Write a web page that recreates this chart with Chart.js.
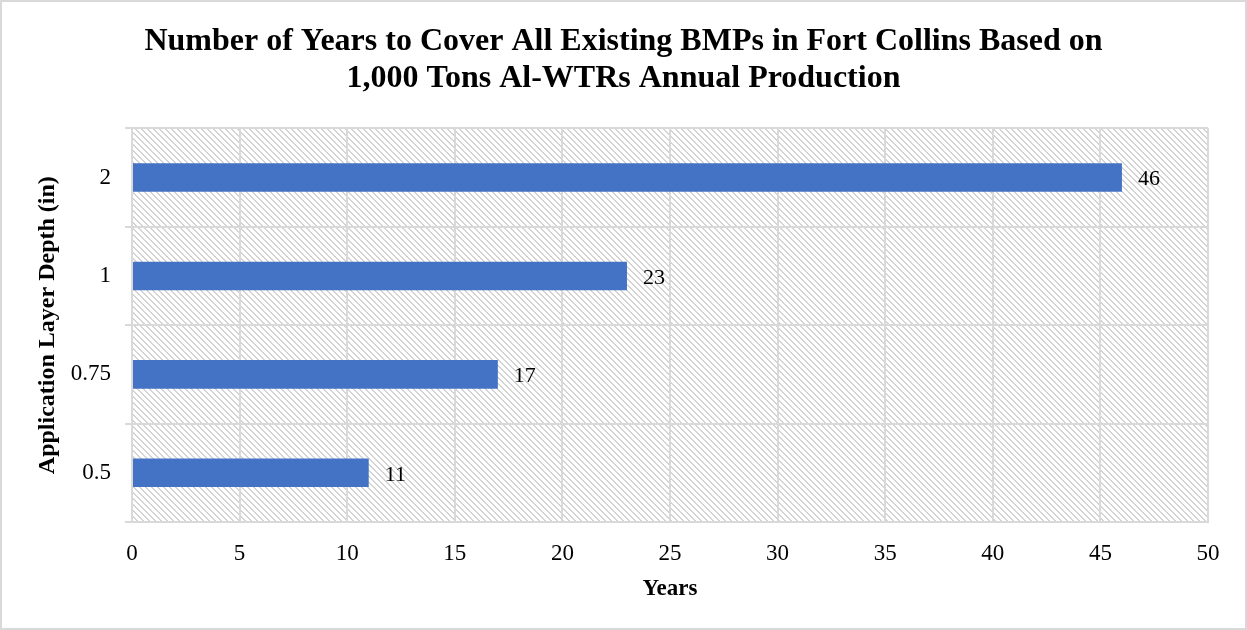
<!DOCTYPE html>
<html>
<head>
<meta charset="utf-8">
<script src="https://cdn.jsdelivr.net/npm/chart.js@4.4.1/dist/chart.umd.min.js"></script>
<style>
  html, body { margin: 0; padding: 0; background: #fff; }
  #wrap { width: 1247px; height: 630px; position: relative; }
</style>
</head>
<body>
<div id="wrap"><canvas id="chart"></canvas></div>
<script>
const depths = ['0.5', '0.75', '1', '2'];
const years = [11, 17, 23, 46];
const titleLines = ['Number of Years to Cover All Existing BMPs in Fort Collins Based on', '1,000 Tons Al-WTRs Annual Production'];

const FONT = "'Liberation Serif', 'Times New Roman', serif";
const GRID = '#d9d9d9';
const BAR = '#4472C4';

function hatchPattern(ctx) {
    const t = document.createElement('canvas');
    t.width = 6; t.height = 6;
    const c = t.getContext('2d');
    c.fillStyle = '#fff';
    c.fillRect(0, 0, 6, 6);
    c.fillStyle = '#d4d4d4';
    for (let i = 0; i < 6; i++) {
        c.fillRect(i, i, 2, 1);
        if (i === 5) c.fillRect(0, i, 1, 1);
    }
    return ctx.createPattern(t, 'repeat');
}

const plotBg = {
    id: 'plotBg',
    beforeDraw(chart) {
        const { ctx, chartArea: a } = chart;
        ctx.save();
        ctx.fillStyle = hatchPattern(ctx);
        ctx.fillRect(a.left, a.top, a.right - a.left, a.bottom - a.top);
        ctx.restore();
    },
    afterDraw(chart) {
        const ctx = chart.ctx;
        ctx.save();
        ctx.strokeStyle = GRID;
        ctx.lineWidth = 2;
        ctx.strokeRect(1, 1, chart.width - 2, chart.height - 2);
        ctx.restore();
    }
};

const barLabels = {
    id: 'barLabels',
    afterDatasetsDraw(chart) {
        const ctx = chart.ctx;
        ctx.save();
        ctx.font = '22px ' + FONT;
        ctx.fillStyle = '#000';
        ctx.textAlign = 'left';
        ctx.textBaseline = 'middle';
        chart.getDatasetMeta(0).data.forEach((bar, i) => {
            ctx.fillText(years[i], bar.x + 16, bar.y + 2);
        });
        ctx.restore();
    }
};

new Chart(document.getElementById('chart'), {
    type: 'bar',
    data: {
        labels: depths,
        datasets: [{ data: years, backgroundColor: BAR, categoryPercentage: 1, barPercentage: 0.29 }]
    },
    options: {
        indexAxis: 'y',
        responsive: true, maintainAspectRatio: false,
        animation: false,
        plugins: {
            legend: { display: false },
            tooltip: { enabled: false },
            title: {
                display: true, text: titleLines, color: '#000',
                font: { family: FONT, size: 32, weight: 'bold', lineHeight: 1.13 },
                padding: { top: 24, bottom: 32 }
            }
        },
        scales: {
            x: {
                min: 0, max: 50,
                ticks: { stepSize: 5, color: '#000', font: { family: FONT, size: 23 }, padding: 18 },
                grid: { color: GRID, lineWidth: 2, drawTicks: false },
                border: { color: GRID, width: 2 },
                title: { display: true, text: 'Years', color: '#000', font: { family: FONT, size: 23, weight: 'bold' }, padding: { top: 0, bottom: 27 } },
                afterFit(s) { s.height = 108; }
            },
            y: {
                reverse: true,
                ticks: { color: '#000', font: { family: FONT, size: 23 }, padding: 14 },
                grid: { color: GRID, lineWidth: 2, tickLength: 7 },
                border: { color: GRID, width: 2 },
                title: { display: true, text: 'Application Layer Depth (in)', color: '#000', font: { family: FONT, size: 24, weight: 'bold' }, padding: { top: 33, bottom: 0 } },
                afterFit(s) { s.width = 132; }
            },
            // empty right-hand axis: keeps the gap on the right without shifting the title
            yRight: {
                type: 'category', position: 'right',
                ticks: { display: false },
                grid: { display: false },
                border: { display: false },
                afterFit(s) { s.width = 39; }
            }
        }
    },
    plugins: [plotBg, barLabels]
});
</script>
</body>
</html>
